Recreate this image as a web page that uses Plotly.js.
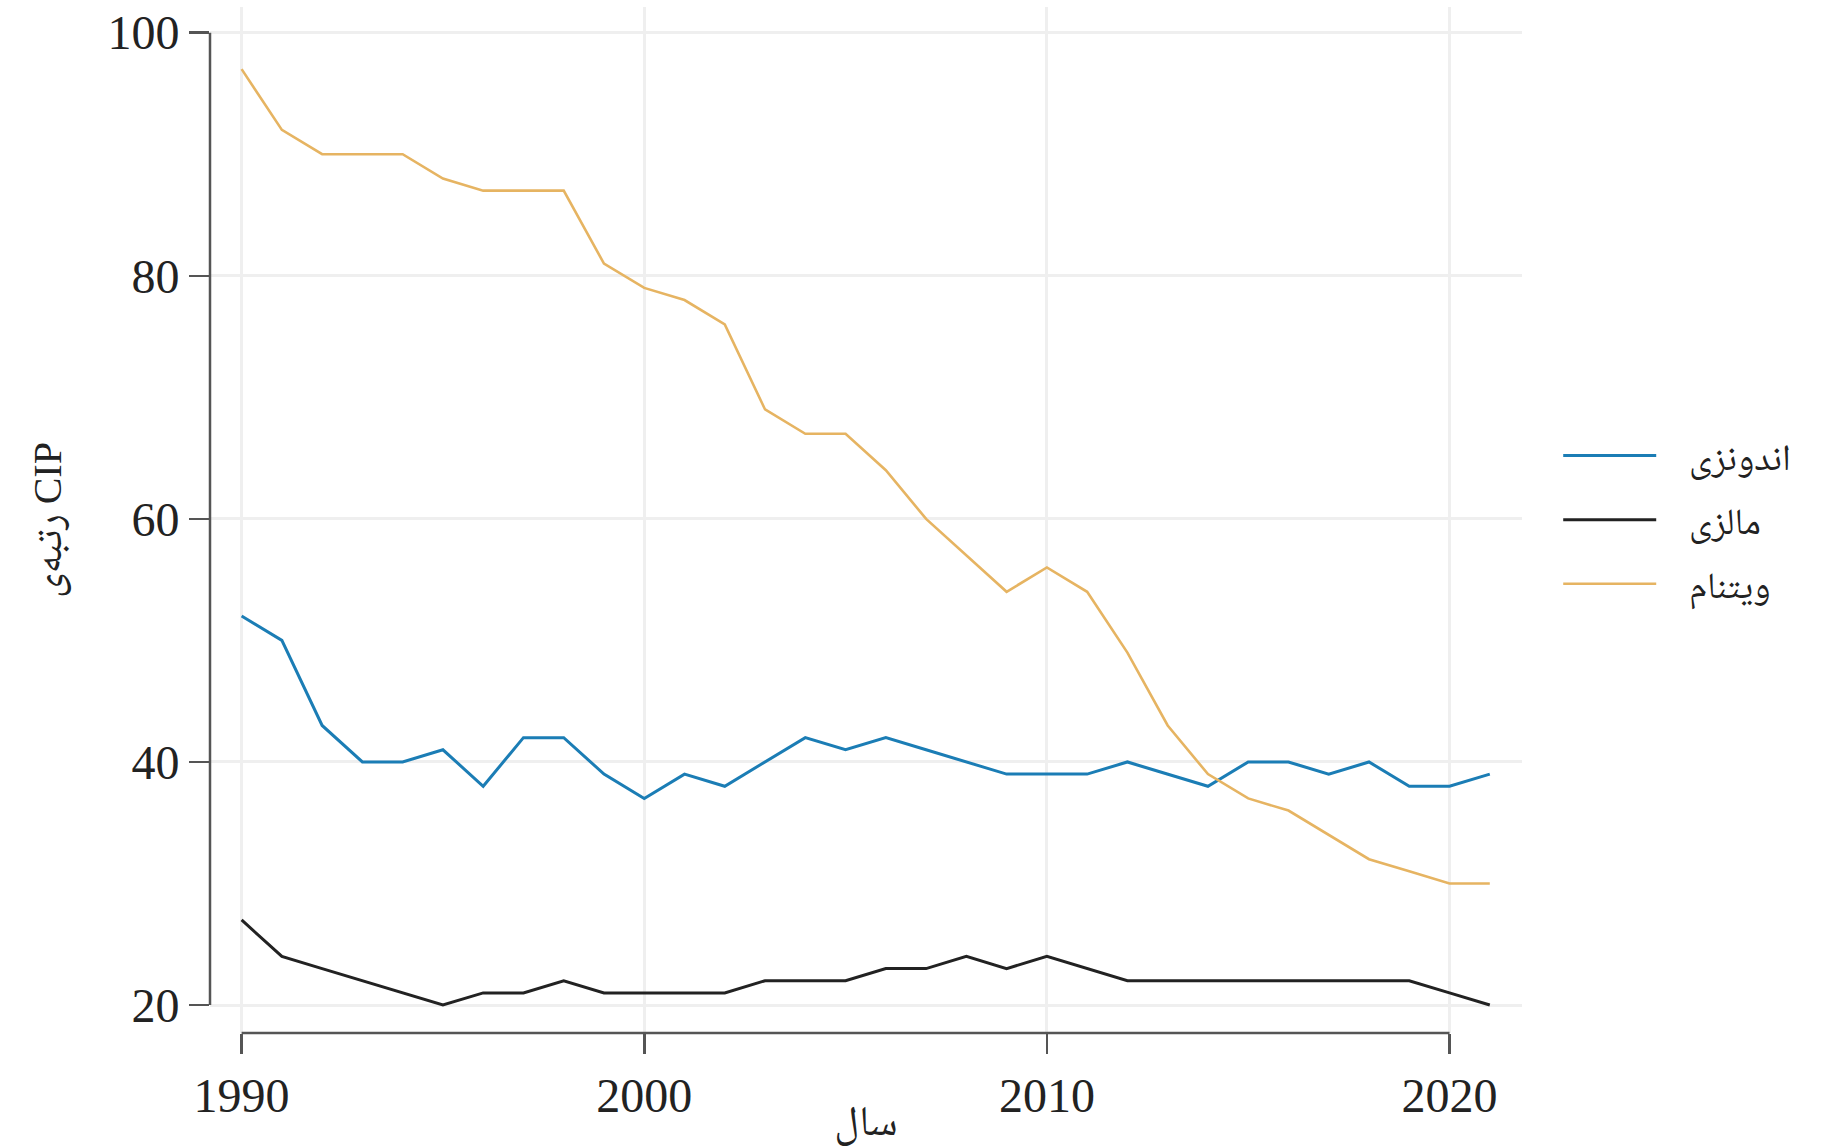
<!DOCTYPE html>
<html>
<head>
<meta charset="utf-8">
<script src="https://cdn.plot.ly/plotly-3.0.1.min.js"></script>
<style>html,body{margin:0;padding:0;background:#fff;}#chart{width:1830px;height:1146px;}</style>
</head>
<body>
<div id="chart"></div>
<script>
// ---- data ----
const years = [1990,1991,1992,1993,1994,1995,1996,1997,1998,1999,2000,2001,2002,2003,2004,2005,2006,2007,2008,2009,2010,2011,2012,2013,2014,2015,2016,2017,2018,2019,2020,2021];
const indonesia = [52,50,43,40,40,41,38,42,42,39,37,39,38,40,42,41,42,41,40,39,39,39,40,39,38,40,40,39,40,38,38,39];
const malaysia  = [27,24,23,22,21,20,21,21,22,21,21,21,21,22,22,22,23,23,24,23,24,23,22,22,22,22,22,22,22,22,21,20];
const vietnam   = [97,92,90,90,90,88,87,87,87,81,79,78,76,69,67,67,64,60,57,54,56,54,49,43,39,37,36,34,32,31,30,30];
const seriesNames = ['اندونزی','مالزی','ویتنام'];
const xTicks = [1990,2000,2010,2020];
const yTicks = [20,40,60,80,100];
const xTitle = 'سال';
const yTitle = 'رتبه‌ی CIP';

const FONT = '"Liberation Serif", "DejaVu Serif", "Noto Naskh Arabic", serif';
const colors = ['#1b7db5','#222222','#e6b462'];
const widths = [3,3,2.6];
const series = [indonesia, malaysia, vietnam];

const traces = series.map((s,i)=>({
  type:'scatter', mode:'lines', x: years, y: s,
  name: '\u2002\u00A0' + seriesNames[i], legendgroup: 'g' + i,
  line:{color:colors[i], width:widths[i]}, hoverinfo:'skip'
}));

const axisColor = '#555555';
const layout = {
  width:1830, height:1146,
  margin:{l:210, r:308, t:7, b:113, pad:0},
  paper_bgcolor:'#ffffff', plot_bgcolor:'#ffffff',
  font:{family:FONT, color:'#222222', size:46},
  showlegend:true,
  legend:{x:1.0276, xanchor:'left', y:0.5, yanchor:'middle', bgcolor:'rgba(0,0,0,0)',
          font:{family:FONT, size:37, color:'#222'}, itemwidth:93, tracegroupgap:13},
  xaxis:{
    range:[1989.215, 2021.80], tickvals:xTicks, ticktext:xTicks.map(String),
    showgrid:true, gridcolor:'#efefef', gridwidth:3, zeroline:false, showline:false,
    ticks:'outside', ticklen:20, tickwidth:2.5, tickcolor:axisColor,
    tickfont:{family:FONT, size:48, color:'#222'},
    title:{text:xTitle, font:{family:FONT, size:42, color:'#222'}, standoff:0}
  },
  yaxis:{
    range:[17.70, 102.11], tickvals:yTicks, ticktext:yTicks.map(String),
    showgrid:true, gridcolor:'#efefef', gridwidth:3, zeroline:false, showline:false,
    ticks:'outside', ticklen:20, tickwidth:2.5, tickcolor:axisColor,
    tickfont:{family:FONT, size:48, color:'#222'},
    title:{text:yTitle, font:{family:FONT, size:40, color:'#222'}, standoff:33}
  },
  shapes:[
    {type:'line', xref:'paper', yref:'y', x0:0, x1:0, y0:yTicks[0], y1:yTicks[yTicks.length-1],
     line:{color:axisColor, width:2.5}, layer:'above'},
    {type:'line', xref:'x', yref:'paper', x0:xTicks[0], x1:xTicks[xTicks.length-1], y0:0, y1:0,
     line:{color:axisColor, width:2.5}, layer:'above'}
  ]
};

Plotly.newPlot('chart', traces, layout, {displayModeBar:false, staticPlot:true});
</script>
</body>
</html>
